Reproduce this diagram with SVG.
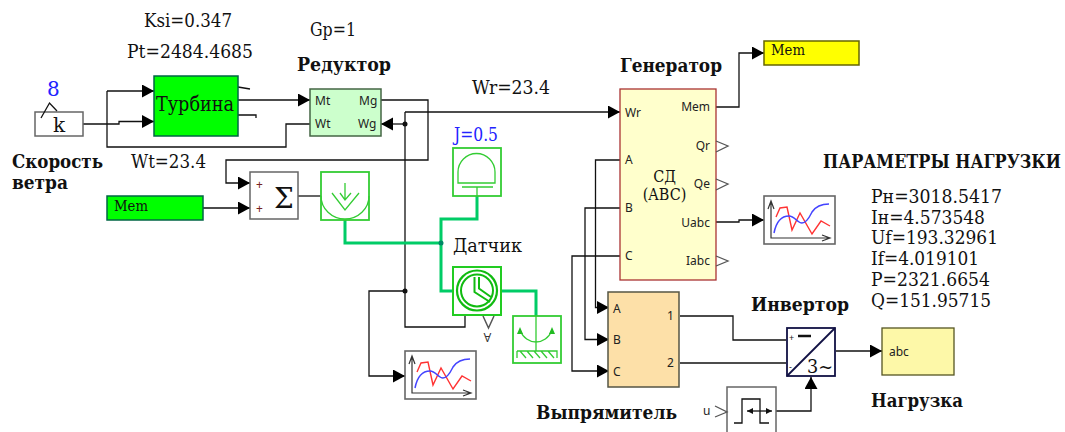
<svg xmlns="http://www.w3.org/2000/svg" width="1065" height="432" viewBox="0 0 1065 432">
<defs>
<marker id="a" markerUnits="userSpaceOnUse" markerWidth="14" markerHeight="14" refX="12" refY="6.5" orient="auto"><path d="M0 0L12 6.5L0 13Z" fill="#000"/></marker>
<g id="plot"><rect x="0" y="0" width="71" height="48" fill="#fff" stroke="#666" stroke-width="1.6"/>
<path d="M7 6V42H65M4 13L7 5L10 13M58 39L66 42L58 45" fill="none" stroke="#333" stroke-width="1.2"/>
<path d="M12 21L16 12L23 11L28 34L36 17L48 38L57 25L66 30" fill="none" stroke="#f33" stroke-width="1.4"/>
<path d="M10 37C12 27 17 20 25 20C31 20 33 27 38 27C43 27 46 20 48 16C52 10 58 8 65 8" fill="none" stroke="#44f" stroke-width="1.5"/></g>
</defs>
<style>
text{font-family:"DejaVu Serif","Liberation Serif",serif;fill:#111}
.v{font-size:19px;font-stretch:condensed}
.b{font-size:19px;font-weight:700;font-stretch:condensed}
.p{font-family:"Noto Sans","Liberation Sans",sans-serif;font-size:12px;fill:#222}
.w{fill:none;stroke:#111;stroke-width:1.3}
.g{fill:#fff;stroke:#3c3;stroke-width:1.8}
.gl{fill:none;stroke:#3c3;stroke-width:1.3}
.gw{fill:none;stroke:#0c6;stroke-width:3}
.mem{font-size:14px;font-stretch:condensed}
</style>
<g id="connectors">
<path class="w" d="M83 124H119V121.500H154" marker-end="url(#a)"/>
<path class="w" d="M107 91V147H286V124H310"/>
<path class="w" d="M107 91H154" marker-end="url(#a)"/>
<path class="w" d="M238 100H310" marker-end="url(#a)"/>
<path class="w" d="M238 87L250 89M238 115H256V118"/>
<path class="w" d="M381 100H428V160H226V183H250" marker-end="url(#a)"/>
<path class="w" d="M405 124H381" marker-end="url(#a)"/>
<path class="w" d="M405 112V327H465V315"/>
<path class="w" d="M405 112H620" marker-end="url(#a)"/>
<path class="w" d="M405 291H369V376H405" marker-end="url(#a)"/>
<path class="w" d="M203 208H250" marker-end="url(#a)"/>
<path class="w" d="M298 196H321"/>
<path class="gw" d="M345 220V243H441M477 196V219H441V291H453M499 291H536V316"/>
<circle cx="441" cy="243" r="2.500" fill="#086"/>
<circle cx="405" cy="124" r="2.500" fill="#111"/>
<circle cx="405" cy="291" r="2.500" fill="#111"/>
<path class="w" d="M716 107H739V53H764" marker-end="url(#a)"/>
<path class="w" d="M716 222H739V220H764" marker-end="url(#a)"/>
<path class="w" d="M620 160H595.500V307.500H609" marker-end="url(#a)"/>
<path class="w" d="M620 208H585V339.500H609" marker-end="url(#a)"/>
<path class="w" d="M620 256H572V371H609" marker-end="url(#a)"/>
<path class="w" d="M680 316H733V340H786"/>
<path class="w" d="M680 363H786"/>
<path class="w" d="M836 351H882" marker-end="url(#a)"/>
<path class="w" d="M776 411H811V377" marker-end="url(#a)"/>
</g>
<g id="k"><rect x="35" y="112" width="48" height="24" fill="#fff" stroke="#666" stroke-width="1.500"/><path class="w" d="M41 118L49.500 103L57 111"/><text x="59" y="132" font-size="20" text-anchor="middle">k</text></g>
<g id="turbine"><rect x="154" y="76" width="84" height="60" fill="#0f0" stroke="#064" stroke-width="1.500"/><text x="156" y="111" font-size="20" font-stretch="condensed" textLength="78" lengthAdjust="spacingAndGlyphs">Турбина</text></g>
<g id="reducer"><rect x="310" y="89" width="71" height="47" fill="#cfc" stroke="#464" stroke-width="1.500"/><text x="315" y="105" class="p">Mt</text><text x="359" y="105" class="p">Mg</text><text x="315" y="128" class="p">Wt</text><text x="358" y="128" class="p">Wg</text></g>
<g id="sum"><rect x="250" y="172" width="48" height="47" fill="#fff" stroke="#666" stroke-width="1.500"/><text x="256" y="189" class="p" style="fill:#722">+</text><text x="256" y="213" class="p" style="fill:#722">+</text><text x="284" y="208" font-size="28" text-anchor="middle">Σ</text></g>
<g id="mem-green"><rect x="107" y="196" width="96" height="24" fill="#0f0" stroke="#064" stroke-width="1.500"/><text x="114" y="211" class="mem" textLength="34" lengthAdjust="spacingAndGlyphs">Mem</text></g>
<g id="torque"><rect class="g" x="321" y="172" width="48" height="48"/><path class="gl" d="M321 196A24 23 0 0 0 369 196"/><path class="gl" d="M345 183V200M340 193L345 200L351 193M332 193L345 210L359 193"/></g>
<g id="inertia"><rect class="g" x="453" y="148" width="48" height="48"/><path class="gl" d="M458 183V172A18.500 18.500 0 0 1 495 172V183ZM462 187H493M477 187V196"/></g>
<g id="sensor"><rect class="g" x="453" y="267" width="48" height="48" style="stroke-width:2;stroke:#2c2"/><circle class="gl" cx="477" cy="290.500" r="20" style="stroke:#1b1;stroke-width:2.200"/><circle class="gl" cx="477" cy="290.500" r="16" style="stroke:#1b1;stroke-width:2"/><path class="gl" style="stroke:#1b1;stroke-width:2" d="M474.500 277V292L490 302M479 277V288.500L491 297"/><path d="M483 316L488.500 328L494 316" fill="#fff" stroke="#555" stroke-width="1.500"/><text x="487.500" y="342" class="p" transform="rotate(180 487.500 337.500)" text-anchor="middle" style="fill:#333">A</text></g>
<g id="ground"><rect class="g" x="513" y="316" width="48" height="47"/><path class="gl" d="M536 316V351M520 330C526 346 546 346 552 330"/><path d="M520 327L517 334L523 334ZM552 327L549 334L555 334Z" fill="#2b2"/><path class="gl" d="M517 351H557V358M517 351V358M520 351L526 358M527 351L533 358M534 351L540 358M541 351L547 358M548 351L554 358"/></g>
<g id="plot1"><use href="#plot" x="405" y="351"/></g>
<g id="generator"><rect x="620" y="89" width="96" height="191" fill="#ffc" stroke="#a33" stroke-width="1.300"/><text x="625" y="117" class="p">Wr</text><text x="625" y="164" class="p">A</text><text x="625" y="212" class="p">B</text><text x="625" y="260" class="p">C</text><text x="710" y="111" class="p" text-anchor="end">Mem</text><text x="710" y="150" class="p" text-anchor="end">Qr</text><text x="710" y="188" class="p" text-anchor="end">Qe</text><text x="710" y="227" class="p" text-anchor="end">Uabc</text><text x="710" y="265" class="p" text-anchor="end">Iabc</text><text x="664.500" y="182" font-size="16" text-anchor="middle" font-stretch="condensed">СД</text><text x="664.500" y="200" font-size="16" text-anchor="middle" font-stretch="condensed">(ABC)</text><path d="M716 141L728 146L716 152M716 179L728 184L716 190M716 256L728 261L716 266" fill="none" stroke="#555" stroke-width="1.300"/></g>
<g id="mem-yellow"><rect x="764" y="41" width="95" height="24" fill="#ff0" stroke="#660" stroke-width="1.500"/><text x="771" y="55" class="mem" textLength="34" lengthAdjust="spacingAndGlyphs">Mem</text></g>
<g id="plot2"><use href="#plot" x="764" y="196"/></g>
<g id="rectifier"><rect x="608" y="292" width="71" height="95" fill="#fde0a8" stroke="#554" stroke-width="1.500"/><text x="613" y="313" class="p">A</text><text x="613" y="344" class="p">B</text><text x="613" y="376" class="p">C</text><text x="667" y="320" class="p">1</text><text x="667" y="367" class="p">2</text></g>
<g id="inverter"><rect x="787" y="328" width="48" height="48" fill="#fff" stroke="#114" stroke-width="1.800"/><path d="M835 328L787 376" stroke="#114" stroke-width="1.800"/><path d="M798 336H811" stroke="#111" stroke-width="2.500"/><text x="789" y="341" class="p" style="font-size:9px">+</text><text x="789" y="370" class="p" style="font-size:9px">-</text><text x="807" y="373" font-size="19" font-stretch="condensed" textLength="26" lengthAdjust="spacingAndGlyphs">3~</text></g>
<g id="load"><rect x="882" y="328" width="72" height="47" fill="#fdf8a8" stroke="#552" stroke-width="1.300"/><text x="889" y="356" class="p">abc</text></g>
<g id="relay"><rect x="727" y="387" width="49" height="60" fill="#fff" stroke="#666" stroke-width="1.500"/><path class="w" d="M734 423H742V399H760V423H769"/><path class="w" d="M747 411H772"/><path d="M747 411L753 408V414ZM772 411L766 408V414Z" fill="#111"/><path d="M715 406L727 412L715 417" fill="none" stroke="#555" stroke-width="1.300"/><text x="703" y="415" class="p">u</text></g>
<g id="labels">
<text x="144" y="27" class="v" textLength="88" lengthAdjust="spacingAndGlyphs">Ksi=0.347</text>
<text x="127" y="58" class="v" textLength="126" lengthAdjust="spacingAndGlyphs">Pt=2484.4685</text>
<text x="310" y="36" class="v" textLength="46" lengthAdjust="spacingAndGlyphs">Gp=1</text>
<text x="297" y="71" class="b" textLength="94" lengthAdjust="spacingAndGlyphs">Редуктор</text>
<text x="47" y="96" font-size="20" style="fill:#22f">8</text>
<text x="12" y="168" class="b" textLength="91" lengthAdjust="spacingAndGlyphs">Скорость</text>
<text x="12" y="189" class="b" textLength="56" lengthAdjust="spacingAndGlyphs">ветра</text>
<text x="131" y="168" class="v" textLength="75" lengthAdjust="spacingAndGlyphs">Wt=23.4</text>
<text x="472" y="94" class="v" textLength="78" lengthAdjust="spacingAndGlyphs">Wr=23.4</text>
<text x="454" y="141" class="v" style="fill:#22f" textLength="44" lengthAdjust="spacingAndGlyphs">J=0.5</text>
<text x="453" y="252" class="v" textLength="69" lengthAdjust="spacingAndGlyphs">Датчик</text>
<text x="620" y="72" class="b" textLength="102" lengthAdjust="spacingAndGlyphs">Генератор</text>
<text x="823" y="168" class="b" style="font-size:17.800px" textLength="238" lengthAdjust="spacingAndGlyphs">ПАРАМЕТРЫ НАГРУЗКИ</text>
<text x="871" y="203" class="v" textLength="131" lengthAdjust="spacingAndGlyphs">Pн=3018.5417</text>
<text x="871" y="224" class="v" textLength="114" lengthAdjust="spacingAndGlyphs">Iн=4.573548</text>
<text x="871" y="244" class="v" textLength="127" lengthAdjust="spacingAndGlyphs">Uf=193.32961</text>
<text x="871" y="265" class="v" textLength="108" lengthAdjust="spacingAndGlyphs">If=4.019101</text>
<text x="871" y="286" class="v" textLength="119" lengthAdjust="spacingAndGlyphs">P=2321.6654</text>
<text x="871" y="307" class="v" textLength="120" lengthAdjust="spacingAndGlyphs">Q=151.95715</text>
<text x="751" y="311" class="b" textLength="98" lengthAdjust="spacingAndGlyphs">Инвертор</text>
<text x="871" y="407" class="b" textLength="92" lengthAdjust="spacingAndGlyphs">Нагрузка</text>
<text x="536" y="419" class="b" textLength="141" lengthAdjust="spacingAndGlyphs">Выпрямитель</text>
</g>
</svg>
